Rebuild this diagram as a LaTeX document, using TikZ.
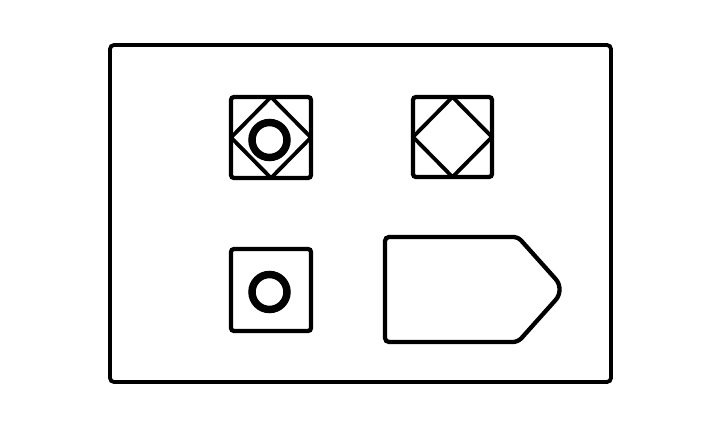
\documentclass[tikz,border=0pt]{standalone}
\usetikzlibrary{calc}
\tikzset{
	frame line/.style={line width=3.8pt,rounded corners=4pt},
	box line/.style={line width=4.3pt,rounded corners=3pt},
	diamond line/.style={line width=3.8pt,line join=round},
	ring line/.style={line width=7.5pt}
}
\begin{document}
\begin{tikzpicture}[x=1pt,y=-1pt,black]
	\useasboundingbox (0, 0) rectangle (720, 430);
	% Points
	\coordinate (FTL) at (110, 45);
	\coordinate (FBR) at (611, 382);

	\coordinate (ATL) at (231, 97);
	\coordinate (ABR) at (311, 178);
	\coordinate (BTL) at (413, 97);
	\coordinate (BBR) at (492, 177);
	\coordinate (CTL) at (231, 249);
	\coordinate (CBR) at (311, 331);

	\coordinate (AC) at ($(ATL)!0.5!(ABR)$);
	\coordinate (BC) at ($(BTL)!0.5!(BBR)$);

	\coordinate (AR) at (269.5, 140);
	\coordinate (CR) at (269.5, 292);

	\coordinate (TL) at (385, 237);
	\coordinate (TS) at (518, 237);
	\coordinate (TP) at (565, 289.5);
	\coordinate (BS) at (518, 342);
	\coordinate (BL) at (385, 342);

	% Frame
	\draw[frame line] (FTL) rectangle (FBR);

	% Boxes
	\draw[box line] (ATL) rectangle (ABR);
	\draw[box line] (BTL) rectangle (BBR);
	\draw[box line] (CTL) rectangle (CBR);

	% Diamonds
	\draw[diamond line]
		(AC |- ATL) -- (ABR |- AC) -- (AC |- ABR) -- (ATL |- AC) -- cycle
		(BC |- BTL) -- (BBR |- BC) -- (BC |- BBR) -- (BTL |- BC) -- cycle
		;

	% Rings
	\draw[ring line]
		(AR) circle(17.5)
		(CR) circle(17.5)
		;

	% Tag
	\draw[box line,rounded corners=4pt]
		(TL) --
		(TS) [rounded corners=14pt] --
		(TP) [rounded corners=5pt] --
		(BS) [rounded corners=4pt] --
		(BL) --
		cycle;
\end{tikzpicture}
\end{document}
